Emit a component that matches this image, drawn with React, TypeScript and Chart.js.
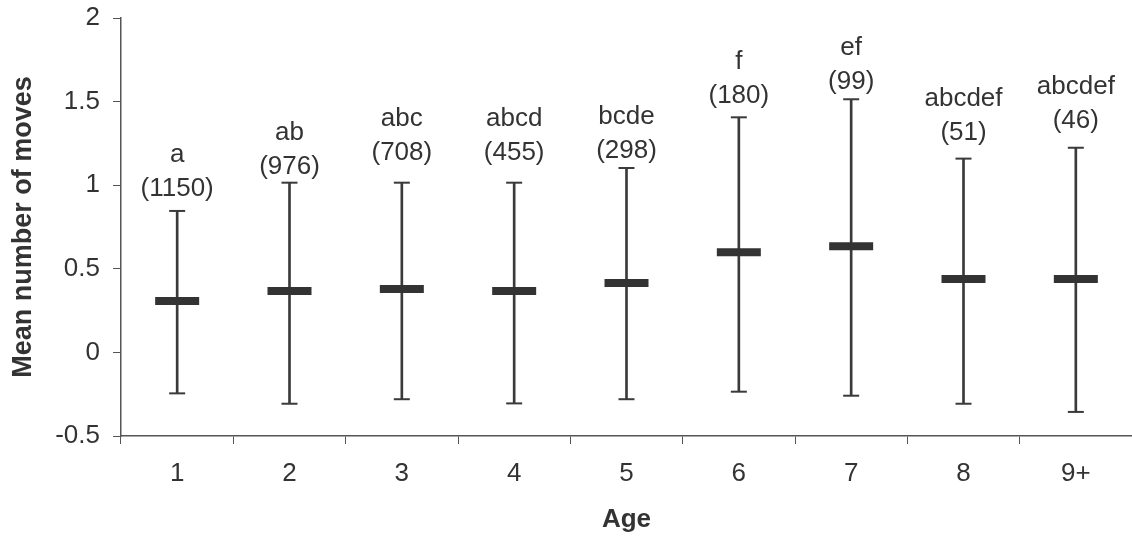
import React, { useEffect, useRef } from "react";
import { Chart, registerables } from "chart.js";

Chart.register(...registerables);

const ages = ["1", "2", "3", "4", "5", "6", "7", "8", "9+"];
const means = [0.307, 0.367, 0.379, 0.367, 0.415, 0.599, 0.635, 0.439, 0.439];
const upper = [0.846, 1.015, 1.015, 1.015, 1.103, 1.406, 1.514, 1.159, 1.224];
const lower = [-0.245, -0.307, -0.28, -0.305, -0.28, -0.235, -0.259, -0.307, -0.356];
const groups = ["a", "ab", "abc", "abcd", "bcde", "f", "ef", "abcdef", "abcdef"];
const counts = [1150, 976, 708, 455, 298, 180, 99, 51, 46];
const labelLevels = [0.977, 1.109, 1.193, 1.191, 1.205, 1.535, 1.621, 1.314, 1.386];
const yTicks = [-0.5, 0, 0.5, 1, 1.5, 2];

const FONT = "'Liberation Sans', Arial, Helvetica, sans-serif";
const TEXT = "#333333";
const AXIS = "#555555";
const INK = "#3a3a3a";

const labelPlugin = {
  id: "groupLabels",
  afterDatasetsDraw(chart: any) {
    const { ctx, scales } = chart;
    const x = scales.x;
    const y = scales.y;
    ctx.save();
    ctx.fillStyle = TEXT;
    ctx.font = `26px ${FONT}`;
    ctx.textAlign = "center";
    ctx.textBaseline = "middle";
    ages.forEach((_, i) => {
      const px = x.getPixelForValue(i);
      const py = y.getPixelForValue(labelLevels[i]);
      ctx.fillText(`(${counts[i]})`, px, py);
      ctx.fillText(groups[i], px, py - 34);
    });
    ctx.restore();
  },
};

export default function App() {
  const ref = useRef<HTMLCanvasElement | null>(null);

  useEffect(() => {
    if (!ref.current) return;
    const chart = new Chart(ref.current, {
      type: "bar",
      data: {
        labels: ages,
        datasets: [
          {
            type: "line",
            label: "mean",
            data: means,
            showLine: false,
            pointStyle: "line",
            pointRadius: 22,
            pointBorderWidth: 8,
            pointBorderColor: "#333333",
            pointBackgroundColor: "#333333",
            order: 0,
          } as any,
          {
            type: "line",
            label: "upper",
            data: upper,
            showLine: false,
            pointStyle: "line",
            pointRadius: 8,
            pointBorderWidth: 2,
            pointBorderColor: INK,
            order: 1,
          } as any,
          {
            type: "line",
            label: "lower",
            data: lower,
            showLine: false,
            pointStyle: "line",
            pointRadius: 8,
            pointBorderWidth: 2,
            pointBorderColor: INK,
            order: 2,
          } as any,
          {
            type: "bar",
            label: "range",
            data: lower.map((l, i) => [l, upper[i]]),
            backgroundColor: INK,
            borderWidth: 0,
            barThickness: 2,
            order: 3,
          } as any,
        ],
      },
      options: {
        responsive: false,
        animation: false,
        events: [],
        layout: { autoPadding: false, padding: { top: 18, right: 0, left: 0, bottom: 0 } },
        plugins: {
          legend: { display: false },
          tooltip: { enabled: false },
        },
        scales: {
          x: {
            offset: true,
            grid: {
              offset: true,
              drawOnChartArea: false,
              drawTicks: true,
              tickLength: 8,
              color: AXIS,
              lineWidth: 1,
            },
            border: { color: AXIS, width: 1.5 },
            ticks: {
              color: TEXT,
              font: { family: FONT, size: 26 },
              padding: 14,
              maxRotation: 0,
              autoSkip: false,
            },
            title: {
              display: true,
              text: "Age",
              color: TEXT,
              font: { family: FONT, size: 26, weight: "bold" },
              padding: { top: 0, bottom: 2 },
            },
            afterFit(scale: any) {
              scale.height = 101;
              scale.paddingLeft = 0;
              scale.paddingRight = 0;
            },
          },
          y: {
            min: -0.5,
            max: 2,
            afterBuildTicks(scale: any) {
              scale.ticks = yTicks.map((v) => ({ value: v }));
            },
            grid: {
              drawOnChartArea: false,
              drawTicks: true,
              tickLength: 8,
              color: AXIS,
              lineWidth: 1,
            },
            border: { color: AXIS, width: 1.5 },
            ticks: {
              color: TEXT,
              font: { family: FONT, size: 26 },
              padding: 13,
              callback: (v: any) => String(v),
            },
            title: {
              display: true,
              text: "Mean number of moves",
              color: TEXT,
              font: { family: FONT, size: 27, weight: "bold" },
              padding: { top: 7, bottom: 0 },
            },
            afterFit(scale: any) {
              scale.width = 121;
              scale.paddingTop = 0;
              scale.paddingBottom = 0;
            },
          },
        },
      },
      plugins: [labelPlugin],
    });
    return () => chart.destroy();
  }, []);

  return (
    <div style={{ position: "fixed", left: 0, top: 0, width: 1132, height: 537, background: "#ffffff" }}>
      <canvas ref={ref} width={1132} height={537} style={{ display: "block" }} />
    </div>
  );
}
